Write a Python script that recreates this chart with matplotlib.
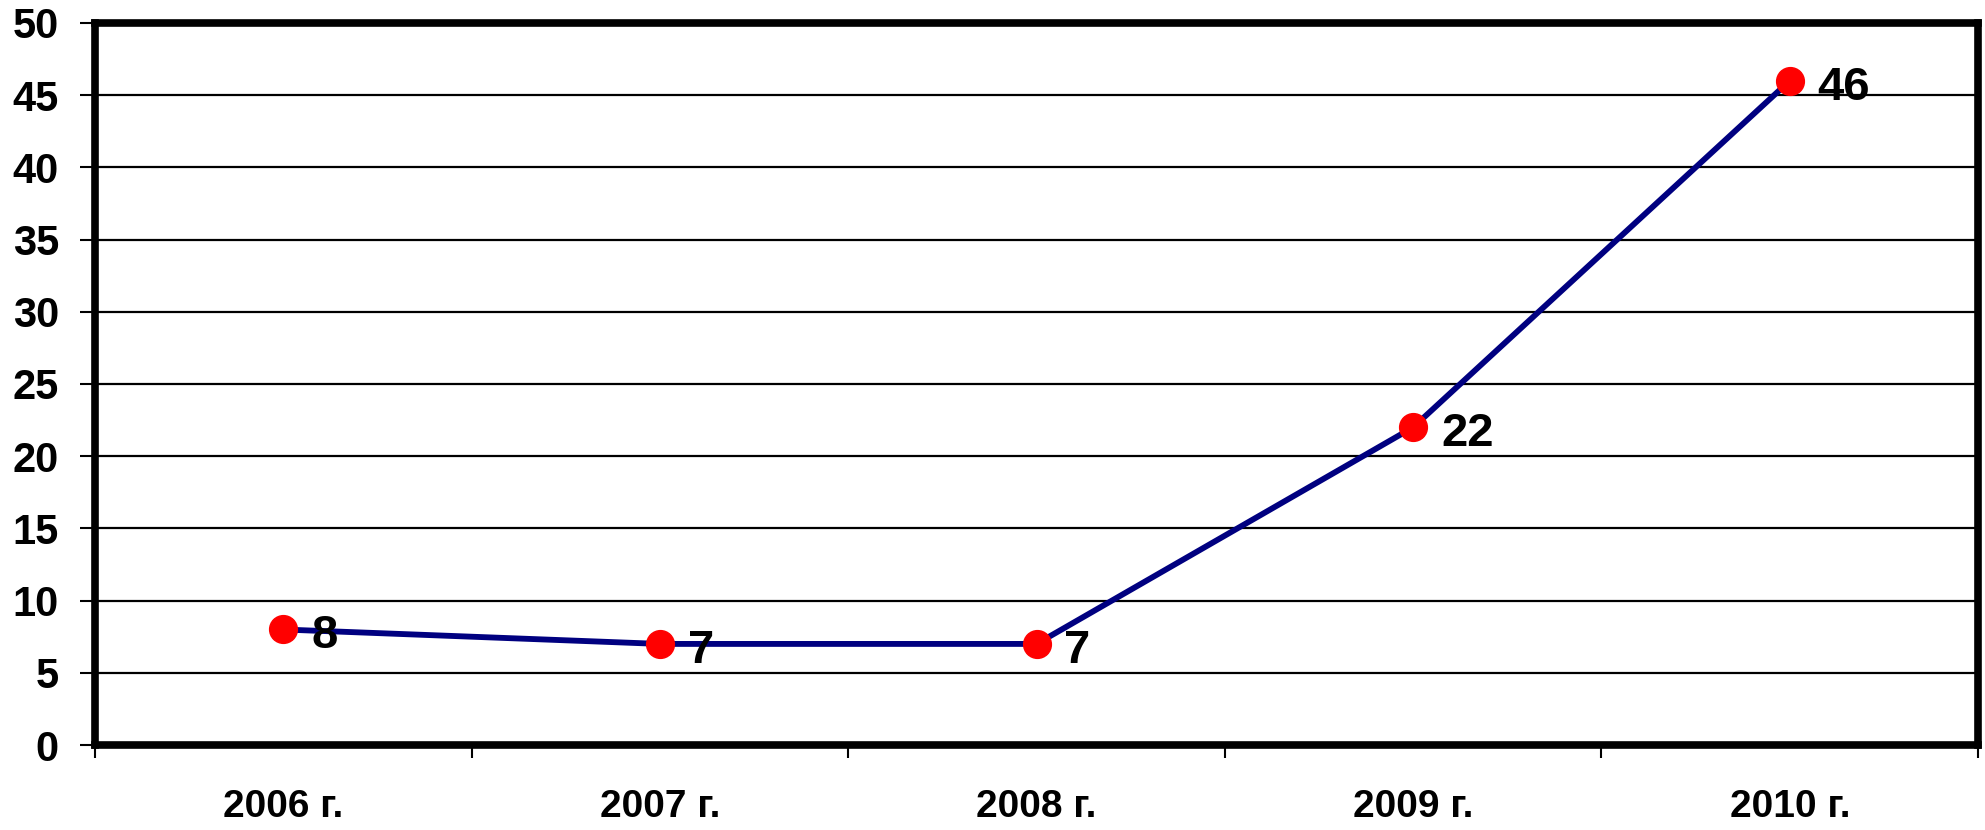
import matplotlib.pyplot as plt
from matplotlib.ticker import FixedLocator

years = ['2006 г.', '2007 г.', '2008 г.', '2009 г.', '2010 г.']
values = [8, 7, 7, 22, 46]
y_ticks = [0, 5, 10, 15, 20, 25, 30, 35, 40, 45, 50]

plt.rcParams['font.family'] = ['Liberation Sans', 'DejaVu Sans']
plt.rcParams['font.weight'] = 'bold'

dpi = 100
fig = plt.figure(figsize=(1985 / dpi, 830 / dpi), dpi=dpi)
ax = fig.add_axes([0.0479, 0.1024, 0.9486, 0.8699])

x = list(range(len(years)))
ax.plot(x, values, color='#000080', linewidth=4.2, zorder=3)
ax.plot(x, values, linestyle='none', marker='o', markersize=20,
        markerfacecolor='#ff0000', markeredgecolor='#ff0000', zorder=4)
for a, b in zip(x, values):
    ax.annotate(str(b), (a, b), xytext=(20, -5), textcoords='offset points',
                ha='left', va='center', fontsize=34, fontweight='bold', zorder=5)

ax.set_xlim(-0.5, len(years) - 0.5)
ax.set_ylim(0, 50)
ax.set_yticks(y_ticks)
ax.set_yticklabels([str(t) for t in y_ticks])
ax.yaxis.grid(True, color='black', linewidth=1.6)
ax.set_axisbelow(True)

ax.set_xticks(x)
ax.set_xticklabels(years)
ax.xaxis.set_minor_locator(FixedLocator([i - 0.5 for i in range(len(years) + 1)]))
ax.tick_params(axis='x', which='major', length=0, pad=32, labelsize=28)
ax.tick_params(axis='x', which='minor', length=9, width=1.5, direction='out')
ax.tick_params(axis='y', which='major', length=11, width=1.5, pad=15, labelsize=30)

for s in ax.spines.values():
    s.set_linewidth(5.5)
    s.set_color('black')

plt.savefig('out.png', dpi=dpi)
